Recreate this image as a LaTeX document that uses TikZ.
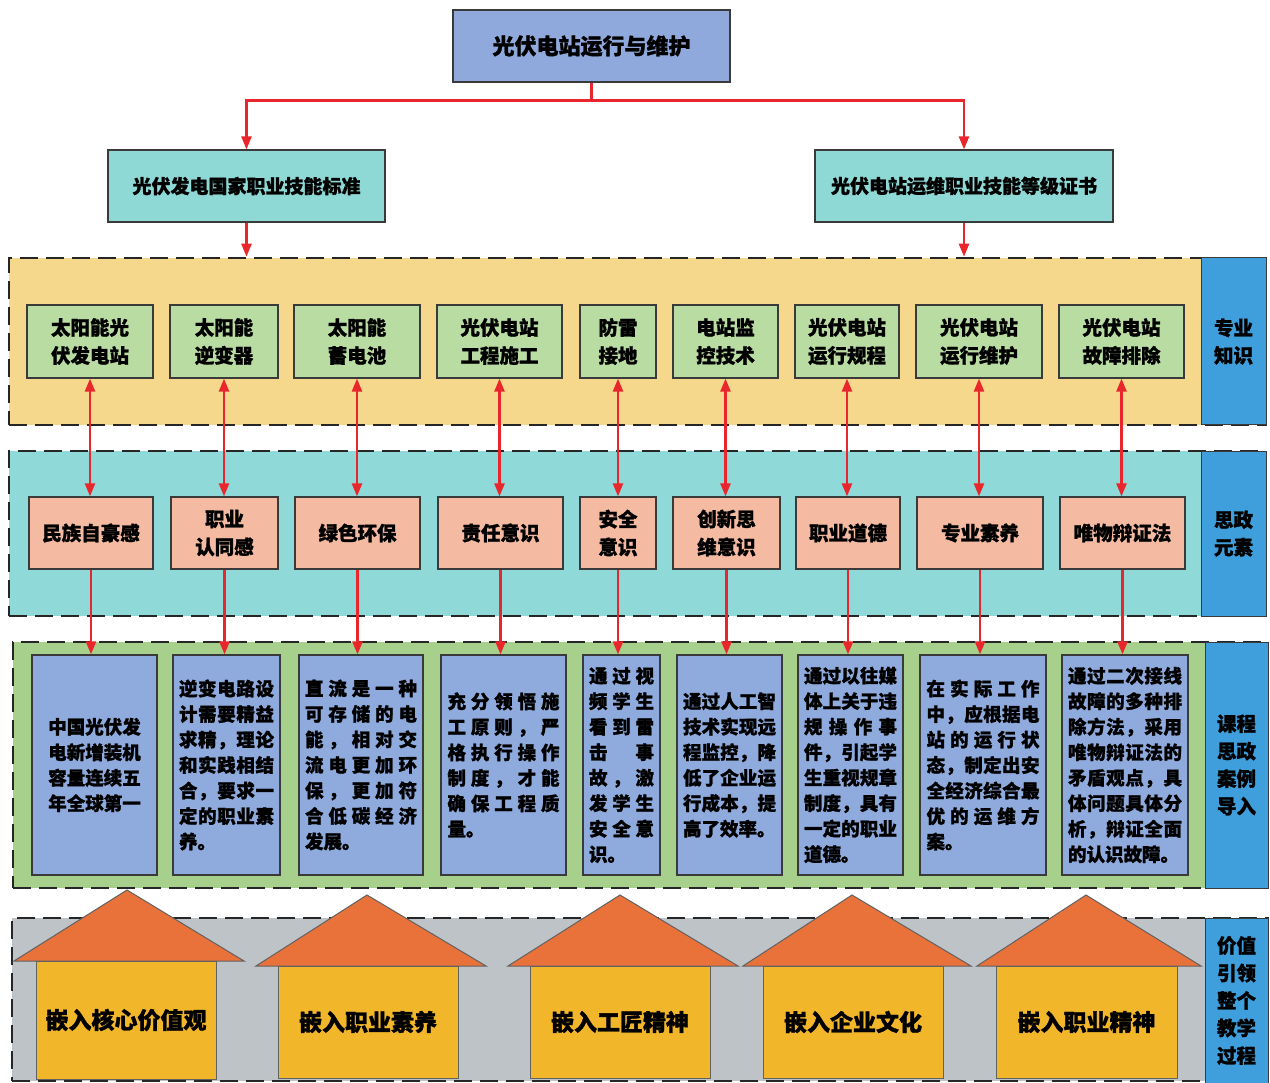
\documentclass[tikz,border=0pt]{standalone}
\usepackage{fontspec}
\setmainfont{Noto Sans CJK SC}[BoldFeatures={FakeBold=1.3}]
\usetikzlibrary{arrows.meta}
\definecolor{topblue}{HTML}{8FA9DC}
\definecolor{tealbox}{HTML}{8ED9D6}
\definecolor{bandA}{HTML}{F5D88C}
\definecolor{greenbox}{HTML}{B9DCA3}
\definecolor{bandB}{HTML}{8FD9D8}
\definecolor{pinkbox}{HTML}{F5BBA2}
\definecolor{bandC}{HTML}{A8D08D}
\definecolor{bluebox}{HTML}{8FAADC}
\definecolor{sidelab}{HTML}{3E9FDC}
\definecolor{bandD}{HTML}{BEC3C8}
\definecolor{roof}{HTML}{E9723A}
\definecolor{housebody}{HTML}{F2B62B}
\definecolor{arrred}{HTML}{E8262C}
\definecolor{boxline}{HTML}{3A3A3A}

\newcommand\bx[7]{\node[#6, minimum width={#4-#2}, minimum height={#5-#3}] (#1) at ({(#2+#4)/2},{(#3+#5)/2}) {#7};}
\def\jlaux#1{#1\futurelet\jlnexttok\jlnext}
\def\jlnext{\ifx\jlnexttok\relax\expandafter\jlgobble\else\hfil\expandafter\jlaux\fi}
\def\jlgobble#1{}
\newcommand\jl[1]{\leavevmode\hbox to\hsize{\jlaux#1\relax}}

\tikzset{
  basebox/.style={draw=boxline, line width=1.2pt, inner sep=0pt, align=center},
  topbox/.style={basebox, fill=topblue, font=\bfseries\fontsize{22}{28}\selectfont},
  stdbox/.style={basebox, fill=tealbox, font=\bfseries\fontsize{19}{27}\selectfont},
  knowbox/.style={basebox, fill=greenbox, font=\bfseries\fontsize{19.5}{28}\selectfont},
  elembox/.style={basebox, fill=pinkbox, font=\bfseries\fontsize{19.5}{28}\selectfont},
  casebox/.style={basebox, fill=bluebox, font=\bfseries\fontsize{18.5}{25.5}\selectfont, align=left},
  sidebox/.style={draw=boxline, line width=1pt, inner sep=0pt, fill=sidelab, align=center, font=\bfseries\fontsize{19.5}{27.5}\selectfont},
  band/.style={draw=black!85, line width=2.6pt, dash pattern=on 18pt off 8pt, inner sep=0pt},
  housebox/.style={draw=boxline!80, line width=1pt, fill=housebody, inner sep=0pt, font=\bfseries\fontsize{23}{28}\selectfont},
  roofstyle/.style={draw=boxline!80, line width=1pt, fill=roof},
  redline/.style={draw=arrred, line width=2.4pt},
  redarrow/.style={redline, -{Triangle[length=13pt,width=10pt]}},
  redboth/.style={redline, {Triangle[length=13pt,width=10pt]}-{Triangle[length=13pt,width=10pt]}},
}

\begin{document}
\begin{tikzpicture}[x=1pt,y=-1pt]
\useasboundingbox[fill=white] (0,0) rectangle (1270,1083);

% bands
\bx{bandK}{9}{258}{1266}{425}{band, fill=bandA}{}
\bx{bandE}{9}{451}{1266}{616}{band, fill=bandB}{}
\bx{bandC}{13}{642}{1268}{888}{band, fill=bandC}{}
\bx{bandV}{12}{918}{1268}{1081}{band, fill=bandD}{}

% side labels
\bx{labK}{1201}{258}{1266}{425}{sidebox}{专业\\知识}
\bx{labE}{1201}{451}{1266}{616}{sidebox}{思政\\元素}
\bx{labC}{1205}{642}{1268}{888}{sidebox}{课程\\思政\\案例\\导入}
\bx{labV}{1205}{918}{1268}{1083}{sidebox}{价值\\引领\\整个\\教学\\过程}

% top
\bx{top}{453}{10}{730}{82}{topbox}{光伏电站运行与维护}
\bx{stdL}{108}{150}{385}{222}{stdbox}{光伏发电国家职业技能标准}
\bx{stdR}{815}{150}{1113}{222}{stdbox}{光伏电站运维职业技能等级证书}

\draw[redline] (top.south) -- ++(0,18) coordinate (split);
\draw[redarrow] (split) -| (stdL.north);
\draw[redarrow] (split) -| (stdR.north);
\draw[redarrow] (stdL.south) -- (stdL.south |- bandK.north);
\draw[redarrow] (stdR.south) -- (stdR.south |- bandK.north);

% knowledge boxes
\bx{g1}{27}{305}{153}{378}{knowbox}{太阳能光\\伏发电站}
\bx{g2}{170}{305}{278}{378}{knowbox}{太阳能\\逆变器}
\bx{g3}{294}{305}{420}{378}{knowbox}{太阳能\\蓄电池}
\bx{g4}{437}{305}{562}{378}{knowbox}{光伏电站\\工程施工}
\bx{g5}{580}{305}{656}{378}{knowbox}{防雷\\接地}
\bx{g6}{673}{305}{778}{378}{knowbox}{电站监\\控技术}
\bx{g7}{795}{305}{899}{378}{knowbox}{光伏电站\\运行规程}
\bx{g8}{916}{305}{1042}{378}{knowbox}{光伏电站\\运行维护}
\bx{g9}{1059}{305}{1184}{378}{knowbox}{光伏电站\\故障排除}

% element boxes
\bx{p1}{29}{497}{153}{569}{elembox}{民族自豪感}
\bx{p2}{171}{497}{278}{569}{elembox}{职业\\认同感}
\bx{p3}{295}{497}{420}{569}{elembox}{绿色环保}
\bx{p4}{438}{497}{563}{569}{elembox}{责任意识}
\bx{p5}{580}{497}{656}{569}{elembox}{安全\\意识}
\bx{p6}{673}{497}{780}{569}{elembox}{创新思\\维意识}
\bx{p7}{796}{497}{900}{569}{elembox}{职业道德}
\bx{p8}{917}{497}{1043}{569}{elembox}{专业素养}
\bx{p9}{1060}{497}{1185}{569}{elembox}{唯物辩证法}

% case boxes
\bx{b1}{32}{655}{157}{875}{casebox, text width=95, align=center}{中国光伏发\\电新增装机\\容量连续五\\年全球第一}
\bx{b2}{173}{655}{280}{875}{casebox, text width=95}{\jl{逆变电路设}\\\jl{计需要精益}\\\jl{求精，理论}\\\jl{和实践相结}\\\jl{合，要求一}\\\jl{定的职业素}\\养。}
\bx{b3}{299}{655}{423}{875}{casebox, text width=112}{\jl{直流是一种}\\\jl{可存储的电}\\\jl{能，相对交}\\\jl{流电更加环}\\\jl{保，更加符}\\\jl{合低碳经济}\\发展。}
\bx{b4}{441}{655}{566}{875}{casebox, text width=112}{\jl{充分领悟施}\\\jl{工原则，严}\\\jl{格执行操作}\\\jl{制度，才能}\\\jl{确保工程质}\\量。}
\bx{b5}{583}{655}{660}{875}{casebox, text width=65}{\jl{通过视}\\\jl{频学生}\\\jl{看到雷}\\\jl{击事}\\\jl{故，激}\\\jl{发学生}\\\jl{安全意}\\识。}
\bx{b6}{677}{655}{782}{875}{casebox, text width=93}{\jl{通过人工智}\\\jl{技术实现远}\\\jl{程监控，降}\\\jl{低了企业运}\\\jl{行成本，提}\\高了效率。}
\bx{b7}{798}{655}{903}{875}{casebox, text width=93}{\jl{通过以往媒}\\\jl{体上关于违}\\\jl{规操作事}\\\jl{件，引起学}\\\jl{生重视规章}\\\jl{制度，具有}\\\jl{一定的职业}\\道德。}
\bx{b8}{920}{655}{1046}{875}{casebox, text width=113}{\jl{在实际工作}\\\jl{中，应根据电}\\\jl{站的运行状}\\\jl{态，制定出安}\\\jl{全经济综合最}\\\jl{优的运维方}\\案。}
\bx{b9}{1062}{655}{1188}{875}{casebox, text width=114}{\jl{通过二次接线}\\\jl{故障的多种排}\\\jl{除方法，采用}\\\jl{唯物辩证法的}\\\jl{矛盾观点，具}\\\jl{体问题具体分}\\\jl{析，辩证全面}\\的认识故障。}

% arrows
\foreach \i in {1,...,9}{
  \draw[redboth] (g\i.south) -- (g\i.south |- p\i.north);
  \draw[redarrow] (p\i.south) -- (p\i.south |- b\i.north);
}

% houses
\draw[roofstyle] (14,961) -- (127,890) -- (244,961) -- cycle;
\bx{h1}{36}{961}{216}{1079}{housebox}{嵌入核心价值观}
\draw[roofstyle] (256,966) -- (367,895) -- (486,966) -- cycle;
\bx{h2}{278}{966}{458}{1078}{housebox}{嵌入职业素养}
\draw[roofstyle] (508,966) -- (620,895) -- (738,966) -- cycle;
\bx{h3}{530}{966}{710}{1078}{housebox}{嵌入工匠精神}
\draw[roofstyle] (743,966) -- (852,895) -- (971,966) -- cycle;
\bx{h4}{763}{966}{943}{1078}{housebox}{嵌入企业文化}
\draw[roofstyle] (977,966) -- (1086,895) -- (1201,966) -- cycle;
\bx{h5}{996}{966}{1177}{1078}{housebox}{嵌入职业精神}
\end{tikzpicture}
\end{document}
